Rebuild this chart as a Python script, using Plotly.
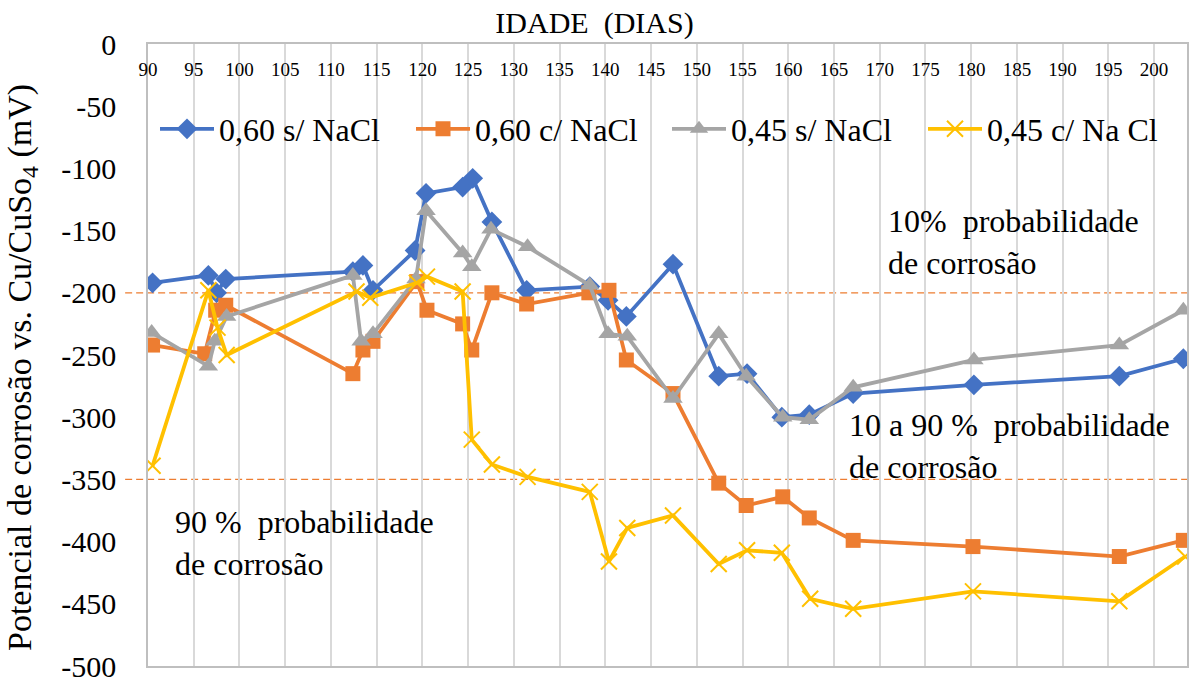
import plotly.graph_objects as go

# ---- data ----
series_names = ["0,60 s/ NaCl", "0,60 c/ NaCl", "0,45 s/ NaCl", "0,45 c/ Na Cl"]

dias_060s = [90.5, 96.6, 97.5, 98.5, 112.4, 113.5, 114.6, 119.2, 120.4, 124.4, 125.5, 127.6, 131.4,
             138.3, 140.3, 142.3, 147.4, 152.4, 155.5, 159.3, 162.3, 167.1, 180.3, 196.2, 203.2]
pot_060s = [-192, -186, -200, -189, -183, -178, -198, -166, -120, -115, -108, -143, -198,
            -195, -206, -219, -177, -267, -265, -300, -298, -281, -274, -267, -253]

dias_060c = [90.5, 96.2, 97.4, 98.5, 112.4, 113.5, 114.6, 119.4, 120.5, 124.4, 125.4, 127.6, 131.4,
             138.2, 140.4, 142.3, 147.4, 152.4, 155.4, 159.4, 162.3, 167.1, 180.2, 196.2, 203.2]
pot_060c = [-242, -249, -214, -210, -265, -246, -239, -191, -214, -225, -246, -200, -209,
            -200, -198, -254, -281, -353, -371, -364, -381, -399, -404, -412, -399]

dias_045s = [90.4, 96.6, 97.3, 98.6, 112.4, 113.3, 114.6, 119.3, 120.4, 124.4, 125.4, 127.5, 131.5,
             138.3, 140.3, 142.4, 147.4, 152.4, 155.4, 159.4, 162.3, 167.1, 180.3, 196.2, 203.2]
pot_045s = [-232, -259, -239, -219, -186, -239, -233, -189, -134, -168, -179, -149, -163,
            -194, -233, -235, -285, -233, -267, -300, -302, -276, -254, -242, -214]

dias_045c = [90.5, 96.6, 97.6, 98.6, 112.8, 114.3, 119.4, 120.5, 124.4, 125.4, 127.6, 131.5,
             138.3, 140.4, 142.4, 147.4, 152.4, 155.5, 159.3, 162.4, 167.1, 180.2, 196.2, 203.4]
pot_045c = [-339, -198, -228, -250, -199, -204, -192, -187, -199, -318, -338, -348,
            -360, -416, -389, -379, -418, -407, -409, -446, -454, -440, -448, -412]

x_ticks = list(range(90, 201, 5))
y_ticks = list(range(-500, 1, 50))
y_ticktext = [str(v) for v in y_ticks]
limites = [-200, -350]

# ---- styling ----
FONT = "Liberation Serif"
colors = ["#4472C4", "#ED7D31", "#A5A5A5", "#FFC000"]
symbols = ["diamond", "square", "triangle-up", "x-thin"]
sizes = [16, 15, 17, 16]

fig = go.Figure()
all_x = [dias_060s, dias_060c, dias_045s, dias_045c]
all_y = [pot_060s, pot_060c, pot_045s, pot_045c]
for name, xs, ys, c, s, sz in zip(series_names, all_x, all_y, colors, symbols, sizes):
    marker = dict(symbol=s, size=sz, color=c)
    if s == "x-thin":
        marker["line"] = dict(color=c, width=2)
    fig.add_trace(go.Scatter(x=xs, y=ys, name=name, mode="lines+markers",
                             line=dict(color=c, width=3.8), marker=marker))

for v in limites:
    fig.add_shape(type="line", xref="paper", yref="y", x0=-0.022, x1=1, y0=v, y1=v,
                  line=dict(color="#ED7D31", width=1.3, dash="7px,4px"), layer="below")

annots = [
    (886, -159, "10%\u00a0\u00a0probabilidade<br>de corrosão"),
    (847, -323, "10 a 90 %\u00a0\u00a0probabilidade<br>de corrosão"),
    (173, -401, "90 %\u00a0\u00a0probabilidade<br>de corrosão"),
]
for xp, yv, t in annots:
    fig.add_annotation(x=(xp - 148) / 1039, xref="paper", y=yv, yref="y", text=t,
                       showarrow=False, xanchor="left", yanchor="middle", align="left",
                       font=dict(family=FONT, size=32, color="black"))

# y-axis title (rotated)
fig.add_annotation(x=(22 - 148) / 1039, xref="paper", y=(666 - 368) / 622, yref="paper",
                   text="Potencial de corrosão vs. Cu/CuSo<sub>4</sub> (mV)", textangle=-90,
                   showarrow=False, xanchor="center", yanchor="middle",
                   font=dict(family=FONT, size=34, color="black"))

fig.update_layout(
    width=1189, height=679,
    margin=dict(l=148, r=2, t=44, b=13),
    paper_bgcolor="white", plot_bgcolor="white",
    font=dict(family=FONT, color="black"),
    title=dict(text="IDADE\u00a0\u00a0(DIAS)", x=0.5, xref="container", xanchor="center",
               y=1 - 22 / 679, yref="container", yanchor="middle",
               font=dict(family=FONT, size=30, color="black")),
    legend=dict(orientation="h", x=7 / 1039, xanchor="left", y=(666 - 129) / 622, yanchor="middle",
                font=dict(family=FONT, size=32, color="black"), bgcolor="rgba(0,0,0,0)",
                itemwidth=54, entrywidth=187),
    showlegend=True,
)

fig.update_xaxes(range=[90, 203.6], tickvals=x_ticks, side="top", ticklabelposition="inside",
                 ticklabeloverflow="allow", ticklabelstandoff=20, automargin=False,
                 tickfont=dict(family=FONT, size=19, color="black"),
                 showgrid=True, gridcolor="#D9D9D9", gridwidth=1.5,
                 showline=True, linecolor="#BFBFBF", linewidth=1.5, mirror=True,
                 zeroline=False, ticks="")
fig.update_yaxes(range=[-500, 0], tickvals=y_ticks, ticktext=y_ticktext,
                 showgrid=False, zeroline=False, ticklabeloverflow="allow", automargin=False,
                 showline=True, linecolor="#BFBFBF", linewidth=1.5, mirror=True,
                 ticks="", ticklabelstandoff=24,
                 tickfont=dict(family=FONT, size=30, color="black"))

fig.write_html("out.html", config={"displayModeBar": False},
               post_script="document.body.style.margin='0';")
